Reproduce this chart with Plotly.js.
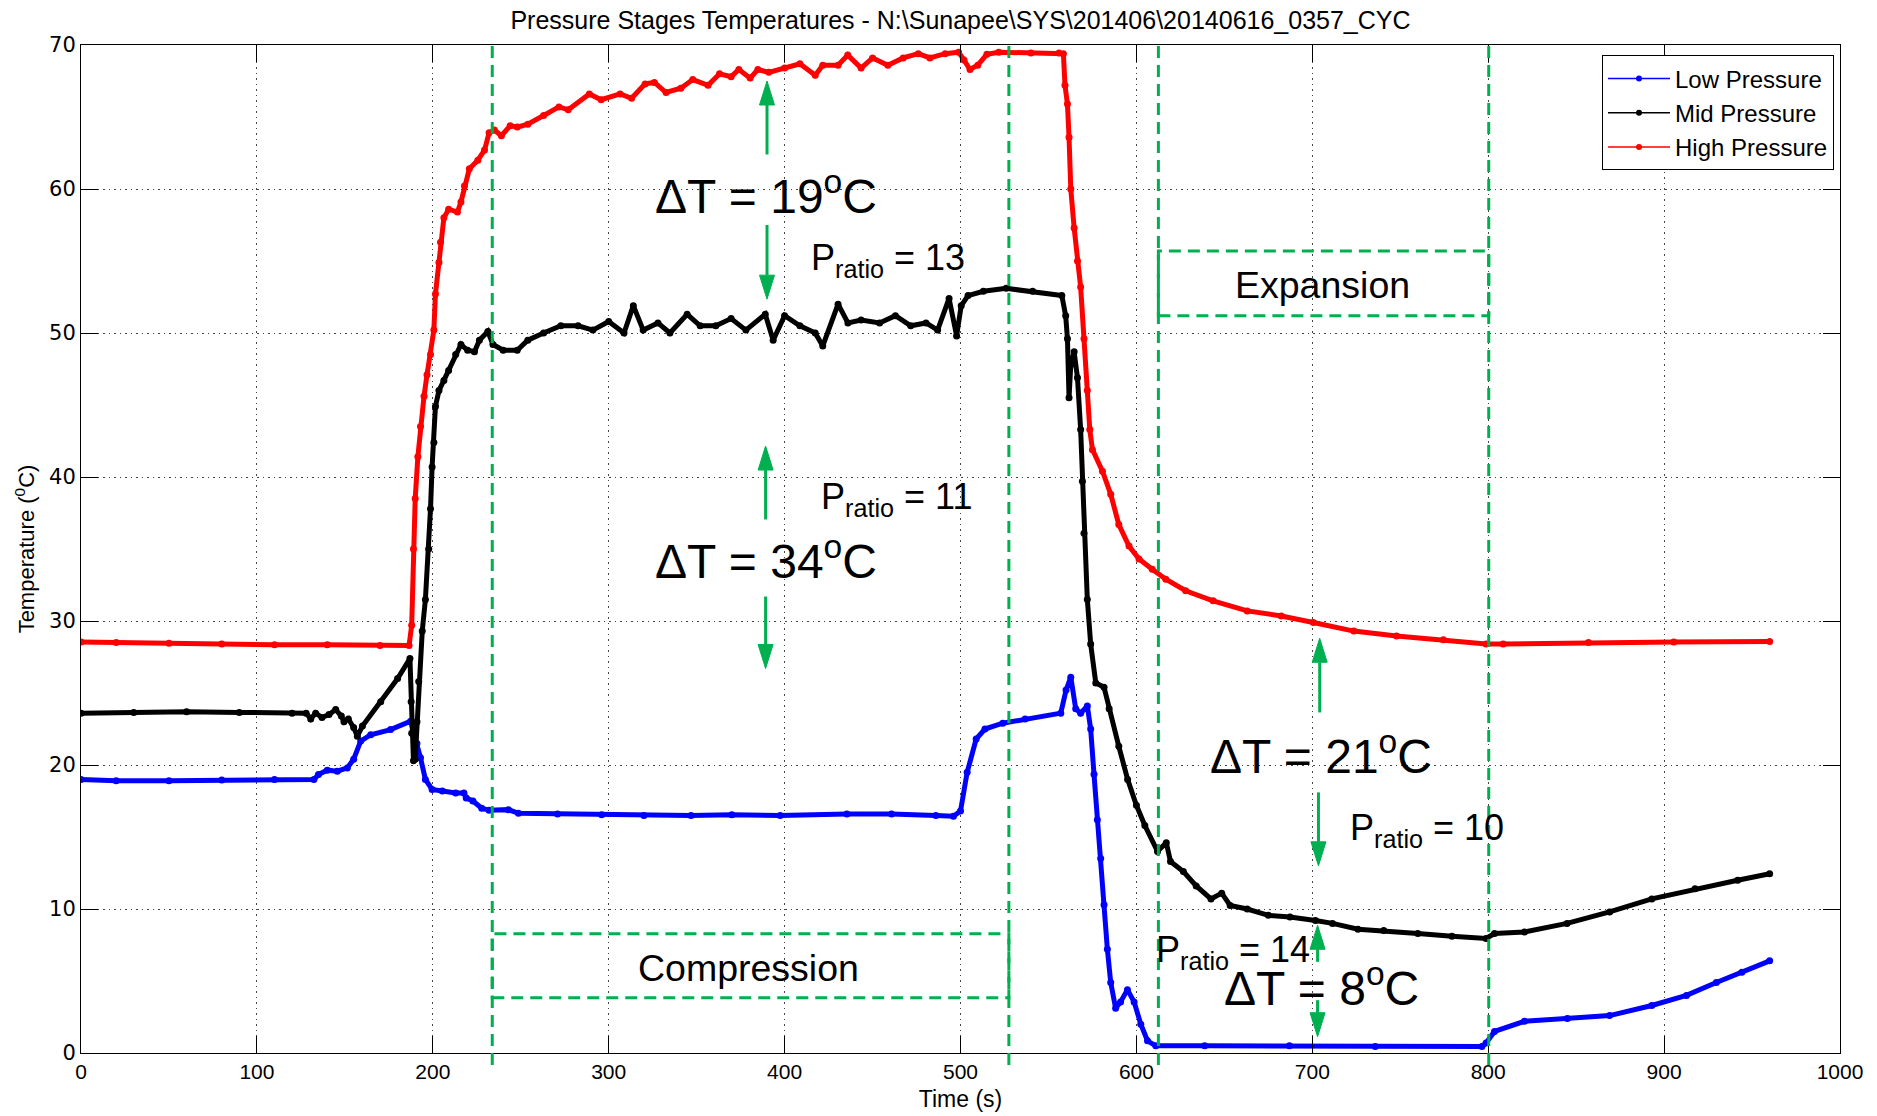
<!DOCTYPE html>
<html><head><meta charset="utf-8">
<script src="https://cdn.plot.ly/plotly-3.0.1.min.js"></script>
<style>html,body{margin:0;padding:0;background:#fff}#chart{width:1877px;height:1116px}</style>
</head><body><div id="chart"></div>
<script>
const seriesNames = ['Low Pressure', 'Mid Pressure', 'High Pressure'];
const seriesColors = ['#0000FF', '#000000', '#FF0000'];

const lowTime = [0,20,50,80,110,132.4,135,140,145.7,151.4,155,159,164.7,176,187.4,191,193,195.8,199.6,205.4,213,217.7,219,222.8,227.8,232,243,248.7,270.9,296,320,346.8,370,397.5,435.4,460.8,486,496,500,503.8,508.9,513.9,524,536.7,557,560,562.7,565.5,568.3,572.1,574,575.9,577.8,579.7,581.6,583.5,585.4,588.2,591,594.9,598.7,602.5,606.3,611,638.8,687,735.8,796.4,798.8,803.6,820.6,845,869,893,912.7,929.7,944.2,960];
const lowTemp = [19.0,18.9,18.9,18.95,19.0,19.0,19.34,19.64,19.57,19.8,20.4,21.66,22.1,22.46,23.04,21.5,20.5,19.0,18.3,18.2,18.05,18.05,17.7,17.5,17.0,16.85,16.9,16.65,16.6,16.55,16.5,16.5,16.55,16.5,16.6,16.6,16.5,16.44,16.8,19.5,21.8,22.5,22.9,23.2,23.6,25.2,26.1,23.9,23.6,24.1,22.5,19.35,16.2,13.5,10.3,7.2,4.9,3.1,3.55,4.4,3.55,2.0,0.85,0.5,0.5,0.5,0.45,0.45,0.7,1.5,2.2,2.4,2.6,3.3,4.0,4.9,5.6,6.4];

const midTime = [0,30,60,90,120,128,130.6,133.4,137,141,144.8,148,149.5,152,155,157.1,160,170.4,180,187,187.7,188,189,190,191,192,194,195.8,197.7,198.7,199.6,200.6,201.5,203.5,206.3,209,213,216,219.8,223.7,226.5,231.3,234.2,240,248,254,263,272.8,282.6,291,300,308.7,314,319.6,328,334.8,344.6,352,360.9,369.6,378,389,393.5,400,408.7,417.4,421.7,430.4,436,443.5,454,463,471.7,480.4,487,493.5,497.8,500.4,504.3,513,526,541,557.6,559.8,560.8,561.7,562.7,564.6,566.5,568.3,569.3,570.2,572.1,574,576.9,581.6,584.5,590,595,600,604.8,612,617,619.4,626.7,634,642.4,648.5,653.3,663,675,687.3,701.8,711.5,726,740.6,760,779.4,798.8,803.6,820.6,844.8,869,893,917.6,941.8,960];
const midTemp = [23.6,23.65,23.7,23.65,23.6,23.6,23.2,23.6,23.3,23.5,23.85,23.4,23.0,23.2,22.6,22.0,22.7,24.4,26.0,27.4,24.4,22.2,20.3,20.4,23.0,25.8,29.3,31.5,35.0,37.8,40.7,42.4,44.9,46.0,46.7,47.4,48.5,49.2,48.8,48.7,49.5,50.1,49.2,48.8,48.8,49.5,50.0,50.5,50.5,50.2,50.8,50.0,51.9,50.2,50.7,50.0,51.3,50.5,50.5,51.0,50.2,51.3,49.5,51.2,50.5,50.0,49.1,52.0,50.7,50.9,50.7,51.2,50.5,50.7,50.2,52.4,49.8,51.9,52.6,52.9,53.1,52.9,52.6,51.2,49.6,45.5,47.8,48.7,46.9,43.3,39.7,36.1,31.5,28.4,25.7,25.4,23.9,21.3,19.0,17.2,15.8,14.0,14.6,13.3,12.6,11.6,10.7,11.1,10.25,10.0,9.56,9.45,9.2,9.0,8.6,8.5,8.3,8.1,7.95,8.3,8.4,9.0,9.8,10.7,11.4,12.0,12.45];

const highTime = [0,20,50,80,110,140,170,186.5,188,189,190,191.5,193,195,196.7,198.7,200.6,201.5,203.5,204.4,206.3,209,214,216,218,220.8,225.6,229.4,232,235,239,244,248,254,263,271.7,277,289,295.7,306.5,313,320.7,326,332.6,341,347.8,356.5,363,369.6,374,380.4,384.8,391,400,408.7,417.4,421.7,430.4,435.9,443.5,450,458.7,467.4,476,482.6,491.3,498.9,502,505.4,509.8,515,521.7,540,556,558.5,559.4,560.8,561.7,562.7,564.6,566.5,568.3,570.2,572.1,573.5,575,580.7,585.4,590,595.8,601.5,609,616.7,628,643.6,663,682.4,700.6,723.6,747.9,774.5,798.8,808.5,857,905.5,960];
const highTemp = [28.55,28.5,28.45,28.4,28.35,28.35,28.3,28.3,29.7,35.0,38.5,41.4,43.5,45.6,47.1,48.5,50.2,52.7,54.9,56.3,58.0,58.6,58.4,59.1,60.2,61.4,62.0,62.7,63.9,64.1,63.7,64.4,64.3,64.5,65.1,65.7,65.5,66.6,66.2,66.6,66.3,67.3,67.4,66.7,67.0,67.6,67.2,68.0,67.8,68.3,67.7,68.3,68.1,68.4,68.7,67.9,68.6,68.6,69.3,68.4,69.1,68.6,69.1,69.4,69.1,69.4,69.5,68.95,68.3,68.6,69.35,69.5,69.45,69.45,69.4,67.2,65.9,63.6,60.0,57.3,55.0,53.2,49.6,46.0,43.3,41.9,40.4,38.8,36.7,35.2,34.3,33.6,32.9,32.1,31.4,30.7,30.35,29.9,29.3,28.96,28.7,28.4,28.4,28.5,28.55,28.57];

const xTicks = [0,100,200,300,400,500,600,700,800,900,1000];
const yTicks = [0,10,20,30,40,50,60,70];

const phaseLines = [233.8, 527.5, 612.5, 800.3];
const phaseNames = ['Compression', 'Expansion'];
const phaseBoxX0 = [233.8, 612.5];
const phaseBoxX1 = [527.5, 800.3];
const phaseBoxY0 = [3.84, 51.2];
const phaseBoxY1 = [8.28, 55.7];
const phaseLabelX = [379.7, 705.9];
const phaseLabelY = [5.93, 53.3];

const deltaLabels = ['ΔT = 19<sup>o</sup>C', 'ΔT = 34<sup>o</sup>C', 'ΔT = 21<sup>o</sup>C', 'ΔT = 8<sup>o</sup>C'];
const deltaX = [389.4, 389.4, 705.2, 705.5];
const deltaY = [59.75, 34.35, 20.85, 4.7];
const ratioLabels = ['P<sub>ratio</sub> = 13', 'P<sub>ratio</sub> = 11', 'P<sub>ratio</sub> = 10', 'P<sub>ratio</sub> = 14'];
const ratioX = [458.9, 463.6, 765.3, 655];
const ratioY = [55.1, 38.5, 15.5, 7.0];

const arrowX = [390, 390, 389.2, 389.2, 704.2, 703.5, 703, 703];
const arrowFrom = [62.4, 57.5, 37.05, 31.7, 23.65, 18.1, 6.33, 3.67];
const arrowTo = [67.5, 52.35, 42.15, 26.7, 28.8, 13.0, 8.87, 1.13];

const GREEN = '#00B050';
const times = [lowTime, midTime, highTime];
const temps = [lowTemp, midTemp, highTemp];

const traces = [];
for (let i = 0; i < 3; i++) {
  traces.push({
    type: 'scatter', mode: 'lines+markers', x: times[i], y: temps[i],
    name: seriesNames[i], showlegend: false,
    line: {color: seriesColors[i], width: 5},
    marker: {color: seriesColors[i], size: 7, symbol: 'circle'}
  });
}
for (let i = 0; i < 3; i++) {
  traces.push({
    type: 'scatter', mode: 'lines+markers', x: [null], y: [null],
    name: seriesNames[i], showlegend: true,
    line: {color: seriesColors[i], width: 1.5},
    marker: {color: seriesColors[i], size: 6}
  });
}

const shapes = [];
phaseLines.forEach(x => shapes.push({type: 'line', xref: 'x', yref: 'paper', x0: x, x1: x, y0: -0.012, y1: 1,
  line: {color: GREEN, width: 3, dash: '12px,7px'}}));
for (let i = 0; i < phaseNames.length; i++) {
  shapes.push({type: 'rect', xref: 'x', yref: 'y', x0: phaseBoxX0[i], x1: phaseBoxX1[i], y0: phaseBoxY0[i], y1: phaseBoxY1[i],
    line: {color: GREEN, width: 3, dash: '12px,7px'}, fillcolor: 'rgba(0,0,0,0)'});
}
const pxX = 1000 / 1758.6, pxY = 70 / 1008;
const headLen = 24 * pxY, headHalf = 7.5 * pxX;
for (let i = 0; i < arrowX.length; i++) {
  const dir = arrowTo[i] > arrowFrom[i] ? 1 : -1;
  const base = arrowTo[i] - dir * headLen;
  shapes.push({type: 'line', xref: 'x', yref: 'y', x0: arrowX[i], x1: arrowX[i], y0: arrowFrom[i], y1: base,
    line: {color: GREEN, width: 3}});
  shapes.push({type: 'path', xref: 'x', yref: 'y',
    path: 'M' + arrowX[i] + ',' + arrowTo[i] + ' L' + (arrowX[i] - headHalf) + ',' + base + ' L' + (arrowX[i] + headHalf) + ',' + base + ' Z',
    fillcolor: GREEN, line: {color: GREEN, width: 1}});
}

const annotations = [];
for (let i = 0; i < deltaLabels.length; i++) {
  annotations.push({x: deltaX[i], y: deltaY[i], xref: 'x', yref: 'y', text: deltaLabels[i], showarrow: false,
    xanchor: 'center', yanchor: 'middle', font: {size: 48, color: '#000'}});
}
for (let i = 0; i < ratioLabels.length; i++) {
  annotations.push({x: ratioX[i], y: ratioY[i], xref: 'x', yref: 'y', text: ratioLabels[i], showarrow: false,
    xanchor: 'center', yanchor: 'middle', font: {size: 36, color: '#000'}});
}
for (let i = 0; i < phaseNames.length; i++) {
  annotations.push({x: phaseLabelX[i], y: phaseLabelY[i], xref: 'x', yref: 'y', text: phaseNames[i], showarrow: false,
    xanchor: 'center', yanchor: 'middle', font: {size: 37.5, color: '#000'}});
}

const axisCommon = {
  ticks: 'inside', ticklen: 17, tickwidth: 1, tickcolor: '#000',
  showline: true, linecolor: '#000', linewidth: 1, mirror: 'ticks',
  showgrid: true, gridcolor: '#444', gridwidth: 1, griddash: '1.5px,4px',
  zeroline: false, automargin: false
};

const layout = {
  width: 1877, height: 1116,
  margin: {l: 81, r: 37, t: 45, b: 63},
  paper_bgcolor: '#fff', plot_bgcolor: '#fff',
  font: {family: 'Liberation Sans, Arial, Helvetica, sans-serif', color: '#000'},
  title: {text: 'Pressure Stages Temperatures - N:\\Sunapee\\SYS\\201406\\20140616_0357_CYC',
    font: {size: 25, color: '#000'}, x: 0.5, xref: 'paper', xanchor: 'center', y: 0.982, yref: 'container', yanchor: 'middle'},
  xaxis: Object.assign({}, axisCommon, {range: [0, 1000], tickvals: xTicks, ticktext: xTicks.map(String),
    tickfont: {size: 21}, title: {text: 'Time (s)', font: {size: 23}, standoff: 8}}),
  yaxis: Object.assign({}, axisCommon, {range: [0, 70], tickvals: yTicks, ticktext: yTicks.map(String),
    tickfont: {size: 21, family: 'DejaVu Sans, Verdana, sans-serif'}, title: {text: 'Temperature (<sup>0</sup>C)', font: {size: 22}, standoff: 8}}),
  showlegend: true,
  legend: {x: 0.9966, xanchor: 'right', y: 0.9896, yanchor: 'top', bgcolor: '#fff', bordercolor: '#000', borderwidth: 1,
    font: {size: 24, color: '#000'}, itemwidth: 62, tracegroupgap: 0},
  shapes: shapes, annotations: annotations
};

Plotly.newPlot('chart', traces, layout, {displayModeBar: false, staticPlot: true});
</script></body></html>
